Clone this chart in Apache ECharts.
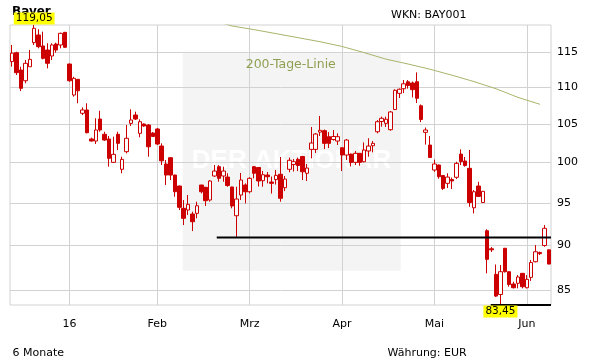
<!DOCTYPE html>
<html><head><meta charset="utf-8">
<script src="https://cdn.jsdelivr.net/npm/echarts@6/dist/echarts.min.js"></script>
<style>html,body{margin:0;padding:0;background:#fff}#c{width:611px;height:364px}</style>
</head><body><div id="c"></div>
<script>
// trading days (category axis)
const dates = [
'2015-12-10','2015-12-11','2015-12-14','2015-12-15','2015-12-16','2015-12-17','2015-12-18','2015-12-21','2015-12-22','2015-12-23','2015-12-28','2015-12-29','2015-12-30',
'2016-01-04','2016-01-05','2016-01-06','2016-01-07','2016-01-08','2016-01-11','2016-01-12','2016-01-13','2016-01-14','2016-01-15','2016-01-18','2016-01-19','2016-01-20','2016-01-21','2016-01-22','2016-01-25','2016-01-26','2016-01-27','2016-01-28','2016-01-29',
'2016-02-01','2016-02-02','2016-02-03','2016-02-04','2016-02-05','2016-02-08','2016-02-09','2016-02-10','2016-02-11','2016-02-12','2016-02-15','2016-02-16','2016-02-17','2016-02-18','2016-02-19','2016-02-22','2016-02-23','2016-02-24','2016-02-25','2016-02-26','2016-02-29',
'2016-03-01','2016-03-02','2016-03-03','2016-03-04','2016-03-07','2016-03-08','2016-03-09','2016-03-10','2016-03-11','2016-03-14','2016-03-15','2016-03-16','2016-03-17','2016-03-18','2016-03-21','2016-03-22','2016-03-23','2016-03-24','2016-03-29','2016-03-30','2016-03-31',
'2016-04-01','2016-04-04','2016-04-05','2016-04-06','2016-04-07','2016-04-08','2016-04-11','2016-04-12','2016-04-13','2016-04-14','2016-04-15','2016-04-18','2016-04-19','2016-04-20','2016-04-21','2016-04-22','2016-04-25','2016-04-26','2016-04-27','2016-04-28','2016-04-29',
'2016-05-02','2016-05-03','2016-05-04','2016-05-05','2016-05-06','2016-05-09','2016-05-10','2016-05-11','2016-05-12','2016-05-13','2016-05-17','2016-05-18','2016-05-19','2016-05-20','2016-05-23','2016-05-24','2016-05-25','2016-05-26','2016-05-27','2016-05-30','2016-05-31',
'2016-06-01','2016-06-02','2016-06-03','2016-06-06','2016-06-07','2016-06-08'];

const opens = [113.65,114.94,112.44,110.92,112.91,116.41,117.55,115.92,115.33,114.46,116.21,116.07,117.95,
113.30,108.93,111.12,106.43,106.88,103.02,102.75,105.66,103.63,103.02,100.01,103.63,99.13,101.37,105.08,106.20,103.76,104.99,104.86,103.80,
104.33,102.10,99.80,100.60,98.41,97.05,94.34,94.14,93.66,93.74,97.17,96.89,95.34,98.29,99.46,98.29,98.16,96.93,93.46,95.95,97.17,
96.35,99.46,99.36,97.71,98.41,97.54,97.85,98.51,96.84,99.13,99.73,100.39,100.75,98.63,101.67,101.67,103.92,104.11,103.32,102.95,102.75,
101.88,100.94,101.06,100.01,101.16,100.09,101.46,102.14,103.97,105.33,105.08,104.24,106.94,109.16,109.80,110.77,110.60,110.78,107.45,103.89,102.23,
99.04,99.67,98.35,97.38,97.85,98.13,101.06,100.18,99.25,94.41,97.05,95.04,91.70,89.62,86.76,84.57,89.68,87.05,85.70,85.78,86.87,
85.30,86.43,88.16,89.19,89.99,89.50];
const closes = [114.87,112.06,109.86,113.40,113.97,118.55,115.82,114.12,113.40,116.07,115.33,117.80,115.73,
110.92,111.26,109.52,106.88,103.84,102.75,104.20,104.20,102.88,100.52,101.03,102.45,100.39,103.11,105.53,105.66,105.30,104.73,102.01,103.34,
102.36,100.21,98.41,98.41,96.35,94.46,93.15,94.82,92.75,94.65,96.35,95.26,97.67,98.91,98.00,98.91,97.11,94.62,95.46,97.79,96.35,
98.00,98.63,97.67,98.45,98.20,97.38,98.37,95.55,97.91,100.27,100.09,99.61,98.82,99.29,102.49,103.67,104.16,102.45,102.45,103.34,103.32,
100.94,102.88,99.99,101.16,100.01,101.59,102.10,102.45,105.30,105.76,105.63,106.61,109.58,109.73,110.49,110.25,109.67,108.48,105.60,104.20,100.63,
99.80,98.20,96.76,98.16,97.67,99.88,100.11,99.61,95.04,96.35,95.78,96.40,88.43,89.50,84.40,87.05,87.05,85.65,85.30,86.47,85.41,
86.21,88.07,89.28,89.07,91.98,87.90];
const lows = [112.93,111.73,109.48,110.56,112.91,116.07,115.58,113.97,112.68,113.88,114.94,115.58,115.65,
110.78,108.70,107.79,106.20,103.76,102.70,102.36,103.97,102.79,99.46,99.96,101.59,98.63,101.16,104.73,105.53,103.24,104.64,100.73,103.28,
102.23,99.67,97.17,97.79,95.74,94.14,92.36,93.54,91.66,93.15,96.15,94.62,95.14,98.20,97.58,97.58,96.96,94.34,91.00,95.34,94.94,
96.15,98.00,96.99,96.96,97.38,96.12,97.23,95.14,96.43,98.76,98.85,98.91,97.79,97.67,100.52,101.20,103.41,101.71,101.84,102.82,102.23,
98.91,100.31,99.48,99.67,99.58,100.01,100.73,101.29,103.76,104.64,104.60,104.11,106.88,108.52,109.20,109.81,108.59,107.83,105.25,102.29,100.56,
98.82,97.95,96.56,96.80,96.68,97.91,99.67,99.46,94.53,93.74,95.75,94.98,86.87,89.26,84.30,83.45,86.96,85.41,85.23,85.23,85.23,
85.23,86.04,88.09,88.91,89.85,87.87];
const highs = [116.07,115.08,112.91,113.88,115.33,119.05,118.40,118.05,116.32,116.32,116.41,117.89,118.00,
113.35,111.49,111.15,107.24,107.79,103.20,105.76,106.78,103.97,103.41,103.32,103.97,100.73,104.86,106.97,106.65,105.62,105.08,104.99,103.93,
104.46,102.45,100.31,100.65,98.45,97.10,95.34,95.95,93.94,95.14,97.20,96.95,97.79,99.67,99.67,99.46,98.63,96.96,96.96,98.67,97.38,
98.13,99.55,99.42,98.91,98.79,98.22,99.04,100.69,98.29,100.62,100.43,100.62,100.82,99.80,104.60,103.80,106.07,104.26,103.93,104.20,103.76,
101.93,103.02,101.13,101.46,101.20,102.58,103.11,102.75,105.53,105.98,105.98,106.74,109.72,109.83,111.02,111.02,110.81,112.10,107.63,104.53,103.41,
100.36,99.73,98.41,98.63,98.10,100.09,101.67,100.69,101.59,96.56,97.58,96.43,91.86,89.82,87.85,87.79,89.71,87.07,85.95,86.68,86.90,
86.68,88.35,90.05,89.30,92.36,89.54];

// 200-day line (candle position, value)
const maPos = [48,50,55,60,65,70,75,80,85,90,95,100,105,110,115,120];
const maVal = [119.3,118.9,118.35,117.75,117.15,116.55,115.85,114.95,114.0,113.3,112.55,111.7,110.8,109.8,108.6,107.65];

// horizontal marker lines (candle position, price)
const supportLine = [[46.5, 90.9], [122.5, 90.9]];
const lowLine = [[108.8, 83.45], [122.5, 83.45]];

const yTicks = [85, 90, 95, 100, 105, 110, 115];
const yMin = 83.45, yMax = 119.05;
const tickDates = ['2016-01-04','2016-02-01','2016-03-01','2016-04-01','2016-05-02','2016-06-01'];
const tickLabels = ['16','Feb','Mrz','Apr','Mai','Jun'];

const ohlc = dates.map((d, i) => [opens[i], closes[i], lows[i], highs[i]]);
const tickIdx = tickDates.map(d => dates.indexOf(d));
const FONT = 'DejaVu Sans';
const RED = '#cc0000';
const GRID = '#d2d2d2';
const fmt = v => v.toFixed(2).replace('.', ',');

const chart = echarts.init(document.getElementById('c'), null, {renderer: 'canvas'});
chart.setOption({
  animation: false,
  backgroundColor: '#fff',
  title: [
    {text: 'Bayer', left: 12, top: 5.5, padding: 0, z: 0, textStyle: {fontFamily: FONT, fontSize: 12, fontWeight: 'bold', color: '#000'}},
    {text: 'WKN: BAY001', left: 391, top: 9.4, padding: 0, textStyle: {fontFamily: FONT, fontSize: 11, fontWeight: 'normal', color: '#000'}},
    {text: '6 Monate', left: 12.5, top: 348, padding: 0, textStyle: {fontFamily: FONT, fontSize: 11, fontWeight: 'normal', color: '#000'}},
    {text: 'Währung: EUR', left: 387.5, top: 348, padding: 0, textStyle: {fontFamily: FONT, fontSize: 11, fontWeight: 'normal', color: '#000'}}
  ],
  graphic: [
    {type: 'rect', z: -5, shape: {x: 182.7, y: 53.3, width: 218, height: 217.4}, style: {fill: '#f4f4f4'}},
    {type: 'text', z: -4, x: 291.5, y: 161, style: {text: 'DER AKTIONÄR', font: 'bold 26px "Liberation Sans"', fill: '#ffffff', align: 'center', verticalAlign: 'middle'}},
    {type: 'text', z: 10, x: 245.7, y: 64.7, style: {text: '200-Tage-Linie', font: '12.5px "DejaVu Sans"', fill: '#8f9f52', align: 'left', verticalAlign: 'middle'}}
  ],
  grid: {left: 10, top: 25, width: 541, height: 280, show: true, borderColor: GRID, borderWidth: 1, backgroundColor: 'transparent', containLabel: false},
  xAxis: [
    {type: 'category', data: dates, boundaryGap: true,
     axisLine: {show: false}, axisTick: {show: false}, splitLine: {show: false},
     axisLabel: {interval: (i, v) => tickDates.includes(v), formatter: v => tickLabels[tickDates.indexOf(v)] || '',
                 margin: 14, color: '#000', fontSize: 11, fontFamily: FONT}},
    {type: 'value', min: -0.5, max: dates.length - 0.5, position: 'bottom',
     axisLine: {show: false}, axisTick: {show: false, customValues: tickIdx}, axisLabel: {show: false},
     splitLine: {show: true, lineStyle: {color: GRID, width: 1}}}
  ],
  yAxis: {
    type: 'log', logBase: 10, position: 'right', min: yMin, max: yMax,
    axisLine: {show: false}, axisTick: {show: false, customValues: yTicks},
    axisLabel: {customValues: yTicks, margin: 6, color: '#000', fontSize: 11, fontFamily: FONT, formatter: v => String(Math.round(v))},
    splitLine: {show: true, lineStyle: {color: GRID, width: 1}}
  },
  series: [
    {type: 'line', xAxisIndex: 1, yAxisIndex: 0, data: maPos.map((p, i) => [p, maVal[i]]), symbol: 'none', silent: true,
     lineStyle: {color: '#a6b56c', width: 1}, z: 1},
    {type: 'candlestick', xAxisIndex: 0, yAxisIndex: 0, data: ohlc, barWidth: 4, z: 2,
     itemStyle: {color: '#ffffff', color0: RED, borderColor: RED, borderColor0: RED, borderWidth: 1},
     markPoint: {
       z: 10, symbol: 'circle', symbolSize: 1, itemStyle: {color: 'rgba(0,0,0,0)'},
       data: [
         {type: 'max', valueDim: 'highest', label: {position: 'top'}},
         {type: 'min', valueDim: 'lowest', label: {position: 'bottom'}}
       ],
       label: {show: true, distance: 0, formatter: p => fmt(p.value), backgroundColor: '#ffff00', color: '#000',
               fontSize: 10.5, fontFamily: FONT, lineHeight: 12, padding: [0, 2, 0, 2]}
     }},
    {type: 'line', xAxisIndex: 1, yAxisIndex: 0, data: supportLine, symbol: 'none', silent: true, clip: false,
     lineStyle: {color: '#000', width: 2}, z: 3},
    {type: 'line', xAxisIndex: 1, yAxisIndex: 0, data: lowLine, symbol: 'none', silent: true, clip: false,
     lineStyle: {color: '#000', width: 2}, z: 3}
  ]
});
</script>
</body></html>
